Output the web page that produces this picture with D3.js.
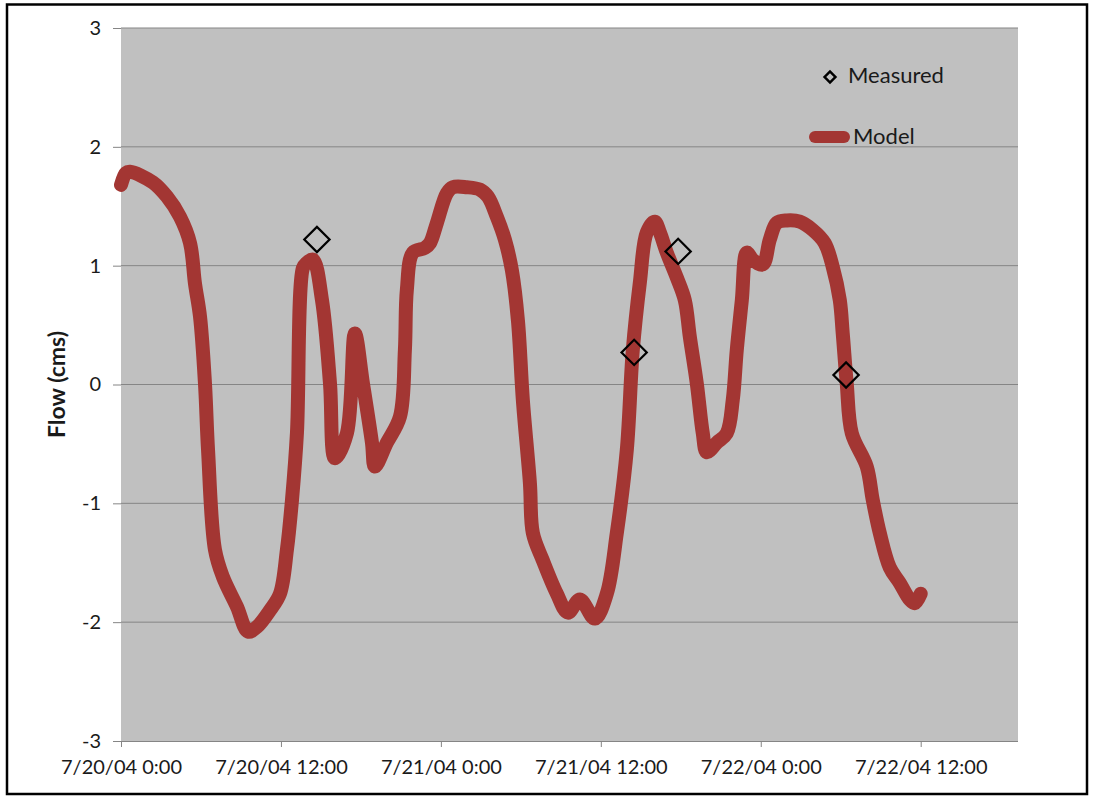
<!DOCTYPE html>
<html>
<head>
<meta charset="utf-8">
<script src="https://cdn.jsdelivr.net/npm/d3@7"></script>
<style>
  html, body { margin: 0; padding: 0; background: #fff; }
  svg { display: block; }
  text { font-family: Lato, "Open Sans", "Liberation Sans", sans-serif; fill: #1a1a1a; }
</style>
</head>
<body>
<svg id="chart" width="1093" height="799"></svg>
<script>
// ---- data (hours after 7/20/04 0:00) ----
const modelHours = [0, 0.375, 0.675, 2.4, 3.45, 4.43, 5.18, 5.55, 5.93, 6.3, 6.53, 7.05, 7.65, 8.7, 9.53, 10.2, 11.18, 11.93, 12.45, 12.83, 13.2, 13.65, 13.9, 14.4, 15.08, 15.68, 16.05, 16.95, 17.55, 18.15, 18.83, 19.05, 19.95, 20.93, 21.3, 21.45, 21.9, 22.8, 23.18, 23.7, 24.45, 24.9, 25.95, 26.93, 27.53, 28.2, 28.8, 29.33, 29.78, 30.15, 30.68, 30.9, 31.65, 32.7, 33.53, 34.43, 35.55, 36.45, 37.2, 37.95, 38.4, 38.93, 39.45, 40.05, 40.43, 40.95, 41.7, 42.3, 42.68, 43.2, 43.65, 43.95, 44.7, 45.45, 45.9, 46.2, 46.58, 46.95, 47.4, 48.15, 48.68, 49.2, 49.95, 50.93, 51.9, 52.8, 53.4, 53.93, 54.15, 54.45, 54.83, 55.95, 56.4, 56.93, 57.68, 58.43, 59.18, 59.55, 60];
const modelFlow  = [1.68, 1.78, 1.79, 1.70, 1.58, 1.41, 1.19, 0.85, 0.57, 0.01, -0.55, -1.39, -1.62, -1.87, -2.08, -2.04, -1.90, -1.76, -1.39, -0.97, -0.41, 0.98, 1.02, 1.05, 0.71, 0.01, -0.62, -0.41, 0.43, 0.01, -0.49, -0.69, -0.49, -0.27, 0.29, 0.80, 1.11, 1.15, 1.19, 1.36, 1.61, 1.66, 1.66, 1.64, 1.58, 1.41, 1.22, 0.96, 0.54, -0.13, -0.83, -1.25, -1.48, -1.76, -1.92, -1.81, -1.97, -1.76, -1.25, -0.55, 0.29, 0.86, 1.28, 1.37, 1.28, 1.11, 0.90, 0.71, 0.40, 0.01, -0.41, -0.57, -0.49, -0.41, -0.13, 0.29, 0.71, 1.11, 1.05, 1.01, 1.22, 1.36, 1.38, 1.37, 1.30, 1.19, 0.99, 0.71, 0.43, 0.01, -0.41, -0.69, -0.97, -1.25, -1.54, -1.67, -1.81, -1.84, -1.76];
const measuredHours = [14.7, 38.5, 41.8, 54.4];
const measuredFlow  = [1.22, 0.27, 1.12, 0.08];
const yTicks = [-3, -2, -1, 0, 1, 2, 3];
const xTickHours = [0, 12, 24, 36, 48, 60];
const seriesNames = ["Measured", "Model"];
const yTitle = "Flow (cms)";

// ---- layout ----
const svg = d3.select("#chart");
const plot = { left: 121, top: 28, right: 1018, bottom: 741 };
const t0 = new Date(2004, 6, 20, 0, 0);
const toDate = h => new Date(t0.getTime() + h * 3600 * 1000);

const x = d3.scaleTime()
  .domain([t0, toDate(67.3)])
  .range([plot.left, plot.right]);
const y = d3.scaleLinear().domain([-3, 3]).range([plot.bottom, plot.top]);

// outer border
svg.append("rect")
  .attr("x", 7).attr("y", 4.5).attr("width", 1080).attr("height", 789.5)
  .attr("fill", "#fff").attr("stroke", "#000").attr("stroke-width", 2.5);

// plot background
svg.append("rect")
  .attr("x", plot.left).attr("y", plot.top)
  .attr("width", plot.right - plot.left).attr("height", plot.bottom - plot.top)
  .attr("fill", "#c0c0c0");

// gridlines
svg.append("g").selectAll("line").data(yTicks.filter(d => d !== -3)).join("line")
  .attr("x1", plot.left).attr("x2", plot.right)
  .attr("y1", d => y(d)).attr("y2", d => y(d))
  .attr("stroke", "#858585").attr("stroke-width", 1);

const tickFont = 20;
// y axis
const yAxis = d3.axisLeft(y).tickValues(yTicks).tickSize(8).tickPadding(12).tickFormat(d => String(d));
const gy = svg.append("g").attr("transform", `translate(${plot.left},0)`).call(yAxis);
gy.select(".domain").remove();
gy.selectAll(".tick line").attr("stroke", "#858585");
gy.selectAll(".tick text").attr("font-size", tickFont).attr("fill", "#1a1a1a")
  .style("font-family", "Lato, 'Open Sans', sans-serif");

// x axis
const fmt = d3.timeFormat("%-m/%-d/%y %-H:%M");
const xAxis = d3.axisBottom(x).tickValues(xTickHours.map(toDate)).tickSize(6).tickPadding(13).tickFormat(fmt);
const gx = svg.append("g").attr("transform", `translate(0,${plot.bottom})`).call(xAxis);
gx.select(".domain").attr("stroke", "#858585").attr("d", `M${plot.left},0.5H${plot.right}`);
gx.selectAll(".tick line").attr("stroke", "#858585");
gx.selectAll(".tick text").attr("font-size", tickFont).attr("fill", "#1a1a1a")
  .style("font-family", "Lato, 'Open Sans', sans-serif");

// y title
svg.append("text")
  .attr("transform", `translate(65,${(plot.top + plot.bottom) / 2}) rotate(-90)`)
  .attr("text-anchor", "middle")
  .attr("font-size", 23).attr("font-weight", "bold")
  .text(yTitle);

// model line
const modelData = modelHours.map((h, i) => ({ t: toDate(h), v: modelFlow[i] }));
const line = d3.line().x(d => x(d.t)).y(d => y(d.v)).curve(d3.curveCatmullRom.alpha(0.5));
const modelColor = "#a33633";
svg.append("path")
  .datum(modelData)
  .attr("d", line)
  .attr("fill", "none")
  .attr("stroke", modelColor)
  .attr("stroke-width", 14)
  .attr("stroke-linejoin", "round")
  .attr("stroke-linecap", "round");

// measured diamonds
const measuredData = measuredHours.map((h, i) => ({ t: toDate(h), v: measuredFlow[i] }));
const diamond = d3.symbol().type(d3.symbolSquare).size(320);
svg.append("g").selectAll("path").data(measuredData).join("path")
  .attr("d", diamond)
  .attr("transform", d => `translate(${x(d.t)},${y(d.v)}) rotate(45)`)
  .attr("fill", "none").attr("stroke", "#000").attr("stroke-width", 2.2);

// legend
const legendFont = 22;
const lg = svg.append("g");
lg.append("path")
  .attr("d", d3.symbol().type(d3.symbolSquare).size(60))
  .attr("transform", "translate(830,77) rotate(45)")
  .attr("fill", "none").attr("stroke", "#000").attr("stroke-width", 2.4);
lg.append("text").attr("x", 848).attr("y", 83).attr("font-size", legendFont).text(seriesNames[0]);
lg.append("line")
  .attr("x1", 815).attr("x2", 844).attr("y1", 137).attr("y2", 137)
  .attr("stroke", modelColor).attr("stroke-width", 12).attr("stroke-linecap", "round");
lg.append("text").attr("x", 853).attr("y", 144).attr("font-size", legendFont).text(seriesNames[1]);
</script>
</body>
</html>
